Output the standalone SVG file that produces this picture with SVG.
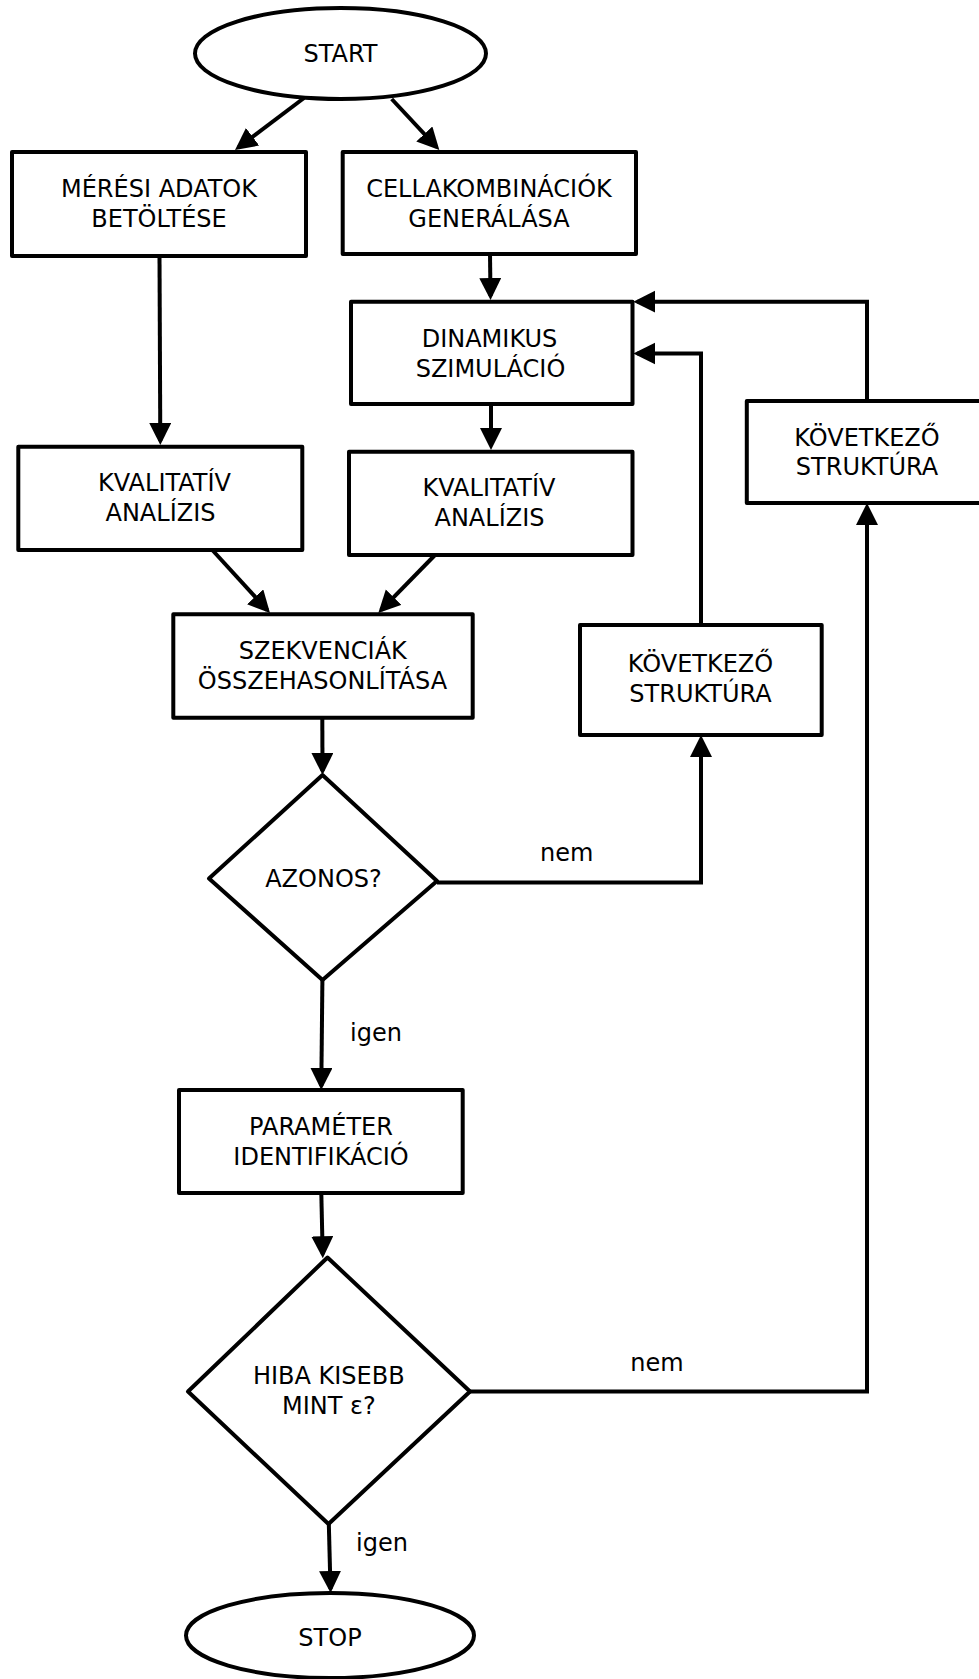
<svg xmlns="http://www.w3.org/2000/svg" width="979" height="1679" viewBox="0 0 979 1679">
<defs>
<style>
.n{fill:#fff;stroke:#000;stroke-width:4;stroke-linejoin:round}
.t{font-family:"DejaVu Sans","Liberation Sans",sans-serif;font-size:24px;fill:#000;text-anchor:middle}
.c{fill:none;stroke:#000;stroke-width:4;stroke-linejoin:miter;marker-end:url(#ah)}
</style>
<marker id="ah" markerUnits="userSpaceOnUse" markerWidth="24" markerHeight="24" refX="18" refY="11" orient="auto">
<path d="M0,0 L22,11 L0,22 Z" fill="#000"/>
</marker>
</defs>
<rect width="979" height="1679" fill="#fff"/>
<g id="connectors">
<path class="c" d="M304,98 L238.2,147.6"/>
<path class="c" d="M391.7,99 L436.6,147.1"/>
<path class="c" d="M159.5,256 L160.3,441"/>
<path class="c" d="M490,254 L490.5,296"/>
<path class="c" d="M491,404 L491,446"/>
<path class="c" d="M212.3,550 L267.3,610.1"/>
<path class="c" d="M435,555 L381.1,610.1"/>
<path class="c" d="M322.3,717.7 L322.5,771"/>
<path class="c" d="M437,882.5 L701,882.5 L701,739"/>
<path class="c" d="M701,625 L701,353.5 L637.3,353.5"/>
<path class="c" d="M867,401 L867,301.7 L637.3,301.7"/>
<path class="c" d="M322.4,980 L321.3,1086"/>
<path class="c" d="M321.3,1193 L322.7,1254.3"/>
<path class="c" d="M470,1391.5 L867,1391.5 L867,507"/>
<path class="c" d="M328.8,1523 L330.5,1589"/>
<text class="t" x="566.7" y="861">nem</text>
<text class="t" x="376" y="1041">igen</text>
<text class="t" x="657" y="1371">nem</text>
<text class="t" x="382" y="1551">igen</text>
</g>
<g id="start">
<ellipse class="n" cx="340.5" cy="53.5" rx="145.5" ry="45.5"/>
<text class="t" x="340.5" y="62">START</text>
</g>
<g id="meresi">
<rect class="n" x="12" y="152" width="294" height="104"/>
<text class="t" x="159" y="197">MÉRÉSI ADATOK</text>
<text class="t" x="159" y="227">BETÖLTÉSE</text>
</g>
<g id="cella">
<rect class="n" x="342.7" y="152" width="293.3" height="102"/>
<text class="t" x="489" y="197">CELLAKOMBINÁCIÓK</text>
<text class="t" x="489" y="227">GENERÁLÁSA</text>
</g>
<g id="dinamikus">
<rect class="n" x="351" y="301.7" width="281.5" height="102.3"/>
<text class="t" x="489.5" y="346.5">DINAMIKUS</text>
<text class="t" x="490.5" y="376.5">SZIMULÁCIÓ</text>
</g>
<g id="kval1">
<rect class="n" x="18.3" y="446.7" width="284" height="103.3"/>
<text class="t" x="164.5" y="490.5">KVALITATÍV</text>
<text class="t" x="160.5" y="520.5">ANALÍZIS</text>
</g>
<g id="kval2">
<rect class="n" x="349" y="451.7" width="283.5" height="103.3"/>
<text class="t" x="489" y="495.5">KVALITATÍV</text>
<text class="t" x="489.5" y="525.5">ANALÍZIS</text>
</g>
<g id="kov1">
<rect class="n" x="746.8" y="401" width="245" height="102"/>
<text class="t" x="867" y="445.5">KÖVETKEZŐ</text>
<text class="t" x="867" y="475">STRUKTÚRA</text>
</g>
<g id="szek">
<rect class="n" x="173.3" y="614.3" width="299.4" height="103.4"/>
<text class="t" x="322.8" y="659">SZEKVENCIÁK</text>
<text class="t" x="322.5" y="689">ÖSSZEHASONLÍTÁSA</text>
</g>
<g id="kov2">
<rect class="n" x="580" y="625" width="241.7" height="110"/>
<text class="t" x="700.5" y="672">KÖVETKEZŐ</text>
<text class="t" x="700.5" y="702">STRUKTÚRA</text>
</g>
<g id="azonos">
<polygon class="n" points="322.5,775 437,881 322.5,980 209,878.5"/>
<text class="t" x="323.5" y="887">AZONOS?</text>
</g>
<g id="param">
<rect class="n" x="179" y="1090" width="283.7" height="103"/>
<text class="t" x="321" y="1134.5">PARAMÉTER</text>
<text class="t" x="321" y="1164.5">IDENTIFIKÁCIÓ</text>
</g>
<g id="hiba">
<polygon class="n" points="327.5,1257.5 470,1391.5 328.5,1524 188,1391.5"/>
<text class="t" x="328.8" y="1384">HIBA KISEBB</text>
<text class="t" x="328.8" y="1414">MINT ε?</text>
</g>
<g id="stop">
<ellipse class="n" cx="330" cy="1635.5" rx="144" ry="42.5"/>
<text class="t" x="330" y="1646">STOP</text>
</g>
</svg>
